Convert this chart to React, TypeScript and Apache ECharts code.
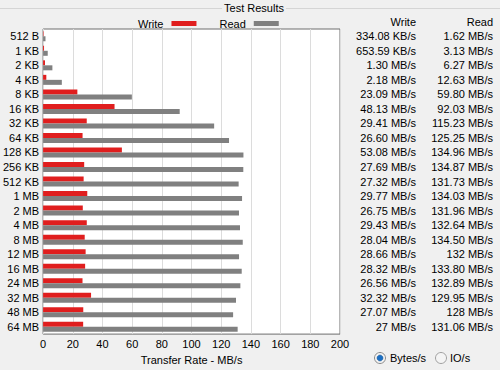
import React, { useEffect, useRef } from "react";
import * as echarts from "echarts";

const categories = ["512 B", "1 KB", "2 KB", "4 KB", "8 KB", "16 KB", "32 KB", "64 KB", "128 KB", "256 KB", "512 KB", "1 MB", "2 MB", "4 MB", "8 MB", "12 MB", "16 MB", "24 MB", "32 MB", "48 MB", "64 MB"];
const writeMBs = [0.326, 0.638, 1.30, 2.18, 23.09, 48.13, 29.41, 26.60, 53.08, 27.69, 27.32, 29.77, 26.75, 29.43, 28.04, 28.66, 28.32, 26.56, 32.32, 27.07, 27];
const readMBs = [1.62, 3.13, 6.27, 12.63, 59.80, 92.03, 115.23, 125.25, 134.96, 134.87, 131.73, 134.03, 131.96, 132.64, 134.50, 132, 133.80, 132.89, 129.95, 128, 131.06];
const writeText = ["334.08 KB/s", "653.59 KB/s", "1.30 MB/s", "2.18 MB/s", "23.09 MB/s", "48.13 MB/s", "29.41 MB/s", "26.60 MB/s", "53.08 MB/s", "27.69 MB/s", "27.32 MB/s", "29.77 MB/s", "26.75 MB/s", "29.43 MB/s", "28.04 MB/s", "28.66 MB/s", "28.32 MB/s", "26.56 MB/s", "32.32 MB/s", "27.07 MB/s", "27 MB/s"];
const readText = ["1.62 MB/s", "3.13 MB/s", "6.27 MB/s", "12.63 MB/s", "59.80 MB/s", "92.03 MB/s", "115.23 MB/s", "125.25 MB/s", "134.96 MB/s", "134.87 MB/s", "131.73 MB/s", "134.03 MB/s", "131.96 MB/s", "132.64 MB/s", "134.50 MB/s", "132 MB/s", "133.80 MB/s", "132.89 MB/s", "129.95 MB/s", "128 MB/s", "131.06 MB/s"];

const FONT = "Liberation Sans";
const FS = 11;

export default function App() {
  const ref = useRef<HTMLDivElement>(null);
  useEffect(() => {
    if (!ref.current) return;
    const chart = echarts.init(ref.current, null, { renderer: "svg" });
    const lbl = { color: "#000", fontFamily: FONT, fontSize: FS };
    chart.setOption({
      animation: false,
      backgroundColor: "#f0f0f0",
      textStyle: { fontFamily: FONT, fontSize: FS, color: "#000" },
      grid: { left: 41, right: 160, top: 29, bottom: 29, show: true, backgroundColor: "#fff", borderColor: "#6e6e6e", borderWidth: 1 },
      legend: {
        left: 133, top: 13, align: "right", itemWidth: 25, itemHeight: 5, itemGap: 23,
        icon: "rect", textStyle: { ...lbl, padding: [0, 3, 0, 0] },
        data: ["Write", "Read"],
      },
      xAxis: {
        type: "value", min: 0, max: 200, interval: 20,
        name: "Transfer Rate - MB/s", nameLocation: "middle", nameGap: 18,
        nameTextStyle: lbl,
        axisLine: { show: false }, axisTick: { show: false },
        axisLabel: { ...lbl, margin: 4 },
        splitLine: { show: true, lineStyle: { color: "#dcdcdc", width: 1 } },
      },
      yAxis: [
        {
          type: "category", data: categories, inverse: true,
          axisLine: { show: false }, axisTick: { show: false },
          axisLabel: { ...lbl, margin: 4 },
        },
        {
          type: "category", data: writeText, inverse: true, position: "right",
          axisLine: { show: false }, axisTick: { show: false },
          axisLabel: { ...lbl, margin: 76, align: "right" },
        },
        {
          type: "category", data: readText, inverse: true, position: "right",
          axisLine: { show: false }, axisTick: { show: false },
          axisLabel: { ...lbl, margin: 153, align: "right" },
        },
      ],
      series: [
        { name: "Write", type: "bar", data: writeMBs, barWidth: 5, barGap: "0%", itemStyle: { color: "#e01e1e" } },
        { name: "Read", type: "bar", data: readMBs, barWidth: 5, barGap: "0%", itemStyle: { color: "#808080" } },
      ],
      graphic: [
        { type: "line", shape: { x1: 0, y1: 8.5, x2: 500, y2: 8.5 }, style: { stroke: "#d5d5d5", lineWidth: 1 }, silent: true },
        { type: "text", x: 254, y: 8, style: { text: "Test Results", font: `${FS}px "${FONT}"`, fill: "#000", align: "center", verticalAlign: "middle", backgroundColor: "#f0f0f0", padding: [0, 2] } },
        { type: "text", x: 416, y: 22, style: { text: "Write", font: `${FS}px "${FONT}"`, fill: "#000", align: "right", verticalAlign: "middle" } },
        { type: "text", x: 493, y: 22, style: { text: "Read", font: `${FS}px "${FONT}"`, fill: "#000", align: "right", verticalAlign: "middle" } },
        { type: "circle", shape: { cx: 380, cy: 358, r: 5.5 }, style: { fill: "#f4f4f4", stroke: "#8a8a8a", lineWidth: 1 } },
        { type: "circle", shape: { cx: 380, cy: 358, r: 3 }, style: { fill: "#1a6fc4", stroke: "#0c4d8f", lineWidth: 0.5 } },
        { type: "text", x: 390, y: 358, style: { text: "Bytes/s", font: `${FS}px "${FONT}"`, fill: "#000", verticalAlign: "middle" } },
        { type: "circle", shape: { cx: 441, cy: 358, r: 5.5 }, style: { fill: "#f4f4f4", stroke: "#a0a0a0", lineWidth: 1 } },
        { type: "text", x: 450, y: 358, style: { text: "IO/s", font: `${FS}px "${FONT}"`, fill: "#000", verticalAlign: "middle" } },
      ],
    });
    return () => chart.dispose();
  }, []);
  return <div ref={ref} style={{ width: 500, height: 370, position: "absolute", left: 0, top: 0 }} />;
}
